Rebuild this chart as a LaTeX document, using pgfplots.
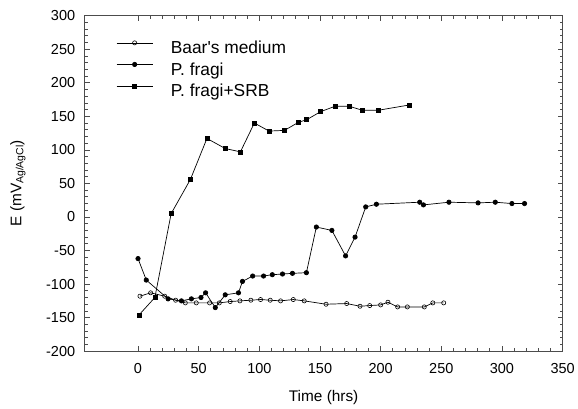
\documentclass[border=0pt]{standalone}
\usepackage{fontspec}
\setmainfont{Liberation Sans}
\usepackage{pgfplots}
\pgfplotsset{compat=1.18}
\begin{document}
\begin{tikzpicture}
\begin{axis}[
  name=ax,
  scale only axis, width=480bp, height=337bp,
  xmin=-44, xmax=350, ymin=-200, ymax=300,
  xtick={0,50,...,350}, ytick={-200,-150,...,300},
  minor x tick num=4, minor y tick num=4,
  tick align=inside, major tick length=5bp, minor tick length=3bp,
  tick style={black!70, line width=0.7pt},
  axis line style={black!70, line width=1pt},
  /pgf/number format/assume math mode=true,
  ticklabel style={font=\fontsize{14.6}{16}\selectfont},
  xticklabel style={yshift=-9bp},
  yticklabel style={xshift=-6bp},
  legend style={draw=none, fill=none, inner sep=0pt, at={(rel axis cs:0.066,0.938)}, anchor=north west,
    font=\fontsize{17.5}{18}\selectfont, row sep=0bp,
    nodes={text height=12.5bp, text depth=4bp, inner ysep=0.6bp}},
  legend cell align=left,
  legend image code/.code={\draw[mark repeat=2,mark phase=2] plot coordinates {(0bp,6.6bp)(18bp,6.6bp)(36bp,6.6bp)}; \path (0bp,-4bp) (52bp,12.5bp);},
  every axis plot/.append style={black, line width=0.7pt},
]
\addplot[mark=o, mark size=2.1bp, mark options={fill=white, line width=0.6pt}] coordinates {
(1.6,-118) (10.4,-113) (22,-118) (31,-124) (39,-128) (48,-128) (59,-128) (67,-128)
(76,-126) (84,-125) (93,-124) (101,-123) (109,-124) (117.5,-125) (128,-123) (137,-125)
(155,-130) (172,-129) (183,-133) (191,-132) (200,-131) (206,-127) (214,-134) (222,-134)
(236,-134) (243,-128) (252,-128)};
\addlegendentry{Baar\textquotesingle s medium}
\addplot[mark=*, mark size=2.2bp] coordinates {
(0,-62) (6.8,-94) (24.8,-122) (35.8,-125) (44,-122) (51.9,-120) (55.7,-113) (63.7,-135)
(71.9,-116) (82.8,-113) (86.1,-96) (94.5,-88) (103.5,-88) (110.7,-86) (119.1,-85)
(127.3,-84) (138.8,-83) (147,-15) (159.8,-20) (171.1,-58) (178.9,-30) (187.7,15)
(196.5,19) (232.2,22) (235.3,18) (256.3,22) (280.3,21) (294.5,22) (308.2,20) (318.6,20)};
\addlegendentry{P. fragi}
\addplot[mark=square*, mark size=2bp] coordinates {
(0.8,-146) (13.9,-120) (27.3,5) (43.2,56) (56.8,117) (71.9,102) (84.4,97) (95.9,140)
(108,128) (120.7,129) (132.2,141) (139.1,145) (150.6,157) (162.5,165) (174,165)
(185,159) (198,159) (224,167)};
\addlegendentry{P. fragi+SRB}
\end{axis}
\node[rotate=90, font=\fontsize{15.5}{17}\selectfont] at ([xshift=-67bp]ax.west) {E (mV{\fontsize{10.5}{12}\selectfont\raisebox{-0.35ex}{Ag/AgCl}})};
\node[font=\fontsize{15.5}{17}\selectfont] at ([yshift=-47bp]ax.south) {Time (hrs)};
\path ([shift={(-85bp,-56bp)}]ax.south west) ([shift={(13bp,15.7bp)}]ax.north east);
\end{tikzpicture}
\end{document}
